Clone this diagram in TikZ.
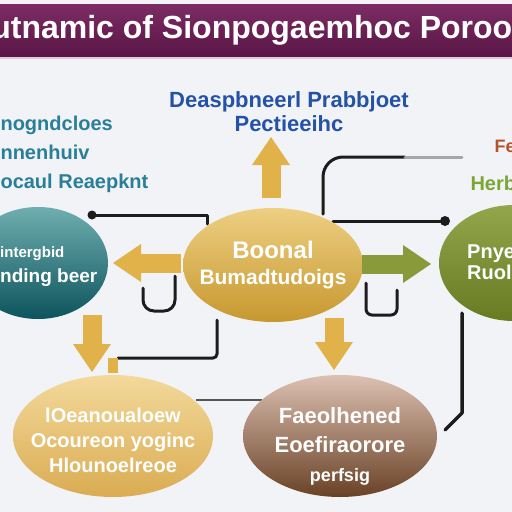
\documentclass[tikz,border=0pt]{standalone}
\usepackage{fontspec}
\setmainfont{Liberation Sans}
\usepackage{tikz}
\usetikzlibrary{arrows.meta,shapes.geometric}

\definecolor{pageGray}{HTML}{F2F3F7}
\definecolor{titleTop}{HTML}{7C2C64}
\definecolor{titleBot}{HTML}{5A1646}
\definecolor{wireBlack}{HTML}{1C1C1C}
\definecolor{wireGray}{HTML}{555555}
\definecolor{goldArrow}{HTML}{E1B14A}
\definecolor{greenArrow}{HTML}{889A3A}
\definecolor{blueText}{HTML}{2452A6}
\definecolor{tealText}{HTML}{2A7F98}
\definecolor{greenText}{HTML}{7BA632}
\definecolor{brownText}{HTML}{B2552A}
\definecolor{tealTop}{HTML}{6FAEB0}
\definecolor{tealBot}{HTML}{0D545C}
\definecolor{goldTop}{HTML}{EDCF82}
\definecolor{goldBot}{HTML}{C7982F}
\definecolor{oliveTop}{HTML}{93A64C}
\definecolor{oliveBot}{HTML}{687A22}
\definecolor{creamTop}{HTML}{F3D99B}
\definecolor{creamBot}{HTML}{DAAC52}
\definecolor{brownTop}{HTML}{DCC0B2}
\definecolor{brownBot}{HTML}{694226}

\tikzset{
  wire/.style={draw=wireBlack, line width=3pt, line cap=round, line join=round},
  blob/.style={ellipse, inner sep=0pt},
  blobtext/.style={text=white, align=center, inner sep=0pt},
  goldarrow/.style={draw=goldArrow, line width=19pt, -{Triangle[length=28pt,width=38pt,line width=0pt]}},
  greenarrow/.style={goldarrow, draw=greenArrow}
}

\begin{document}
\begin{tikzpicture}[x=1pt, y=-1pt]
\useasboundingbox (0,0) rectangle (512,512);
\fill[pageGray] (0,0) rectangle (512,512);

% title band
\shade[top color=titleTop, bottom color=titleBot] (0,4) rectangle (512,56);
\draw[line width=1.5pt, draw=titleTop!25] (0,58) to (512,58);
\node[text=white, font=\fontsize{32}{36}\selectfont\bfseries] (title) at (250,30) {Autnamic of Sionpogaemhoc Poroou};

% texts round the top
\node[text=blueText, align=center, font=\fontsize{22}{24}\selectfont\bfseries] (topLabel) at (289,112) {Deaspbneerl Prabbjoet\\Pectieeihc};
\node[text=tealText, align=left, anchor=west, font=\fontsize{20}{29}\selectfont\bfseries] (leftLabel) at (-3,154) {nogndcloes\\nnenhuiv\\ocaul Reaepknt};
\node[text=brownText, anchor=west, font=\fontsize{18}{20}\selectfont\bfseries] (cornerLabel) at (491,146) {Fe};
\node[text=greenText, anchor=west, font=\fontsize{20}{22}\selectfont\bfseries] (rightLabel) at (467,183) {Herb};

% connectors
\coordinate (tealKnob) at (92,215);
\coordinate (tealBend) at (207,215);
\coordinate (tealEnd) at (207,224);
\draw [wire] (tealKnob) -- (tealBend) -- (tealEnd);
\fill [wireBlack] (tealKnob) circle (4.5pt);

\coordinate (hookA) at (143,288);
\coordinate (hookB) at (143,311);
\coordinate (hookC) at (175,311);
\coordinate (hookD) at (175,276);
\draw [wire, rounded corners=11pt] (hookA) -- (hookB) -- (hookC) -- (hookD);

\coordinate (lowTop) at (217,320);
\coordinate (lowBend) at (217,358);
\coordinate (lowEnd) at (118,358);
\draw [wire, rounded corners=4pt] (lowTop) -- (lowBend) -- (lowEnd);
\node [fill=goldArrow, minimum width=10pt, minimum height=15pt, inner sep=0pt] (goldTab) at (113,365) {};

\coordinate (archFoot) at (323,214);
\coordinate (archBend) at (323,157);
\coordinate (archFade) at (405,157);
\coordinate (archEnd) at (462,157);
\draw [wire, rounded corners=20pt] (archFoot) -- (archBend) -- (archFade);
\draw [wire, draw=gray!70] (archFade) -- (archEnd);

\coordinate (greenStart) at (333,221);
\coordinate (greenKnob) at (445,221);
\draw [wire] (greenStart) -- (greenKnob);
\fill [wireBlack] (greenKnob) circle (5pt);

\coordinate (cupA) at (366,283);
\coordinate (cupB) at (366,315);
\coordinate (cupC) at (397,315);
\coordinate (cupD) at (397,290);
\draw [wire, rounded corners=6pt] (cupA) -- (cupB) -- (cupC) -- (cupD);

\coordinate (sideTop) at (462,313);
\coordinate (sideBend) at (462,413);
\coordinate (sideEnd) at (445,430);
\draw [wire, line width=3.5pt] (sideTop) -- (sideBend) -- (sideEnd);

\coordinate (bridgeL) at (196,400);
\coordinate (bridgeR) at (262,400);
\draw [line width=1.3pt, draw=wireGray] (bridgeL) -- (bridgeR);

% ellipses
\node[blob, minimum width=140pt, minimum height=112pt, top color=tealTop, bottom color=tealBot] (tealBlob) at (38,263) {};
\node[blob, minimum width=180pt, minimum height=114pt, top color=goldTop, bottom color=goldBot] (goldBlob) at (273,265) {};
\node[blob, minimum width=150pt, minimum height=116pt, top color=oliveTop, bottom color=oliveBot] (greenBlob) at (514,263) {};
\node[blob, minimum width=200pt, minimum height=122pt, top color=creamTop, bottom color=creamBot] (creamBlob) at (113,436) {};
\node[blob, minimum width=194pt, minimum height=122pt, top color=brownTop, bottom color=brownBot] (brownBlob) at (340,436) {};

\node[blobtext, align=left, anchor=west, font=\fontsize{19}{25}\selectfont\bfseries] (tealText) at (0,267) {{\fontsize{15}{20}\selectfont intergbid}\\nding beer};
\node[blobtext, font=\fontsize{24}{26}\selectfont\bfseries] (goldText) at (273,265) {Boonal\\{\fontsize{21}{24}\selectfont Bumadtudoigs}};
\node[blobtext, align=left, anchor=west, font=\fontsize{20}{21}\selectfont\bfseries] (greenText) at (467,262) {Pnyesical\\Ruolenes};
\node[blobtext, font=\fontsize{20}{25}\selectfont\bfseries] (creamText) at (113,440) {lOeanoualoew\\Ocoureon yoginc\\Hlounoelreoe};
\node[blobtext, font=\fontsize{22}{29}\selectfont\bfseries] (brownText) at (340,446) {Faeolhened\\Eoefiraorore\\{\fontsize{18}{20}\selectfont perfsig}};

% block arrows
\coordinate (upTail) at (271,198);
\coordinate (upTip) at (271,137);
\coordinate (leftTail) at (181,263);
\coordinate (leftTip) at (113,263);
\coordinate (rightTail) at (362,264);
\coordinate (rightTip) at (431,264);
\coordinate (downTailL) at (92,315);
\coordinate (downTipL) at (92,372);
\coordinate (downTailC) at (334,318);
\coordinate (downTipC) at (334,370);
\draw [goldarrow] (upTail) -- (upTip);
\draw [goldarrow] (leftTail) -- (leftTip);
\draw [greenarrow] (rightTail) -- (rightTip);
\draw [goldarrow] (downTailL) -- (downTipL);
\draw [goldarrow] (downTailC) -- (downTipC);
\end{tikzpicture}
\end{document}
